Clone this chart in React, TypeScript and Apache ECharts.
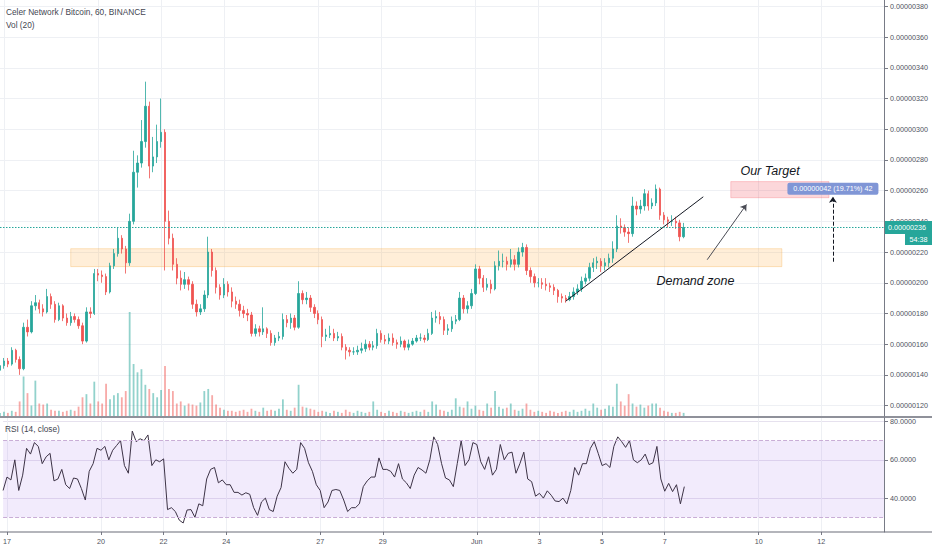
import React, { useEffect, useRef } from "react";
import * as echarts from "echarts";

// ---------- data (prices in satoshi, 3-hour candles from 16 May 21:00) ----------
const firstOpen = 143;
const closes = [
  146, 149, 147, 156, 150, 144, 171, 168, 185, 187,
  183, 181, 191, 186, 176, 185, 177, 174, 178, 176,
  172, 162, 181, 180, 206, 205, 204, 194, 211, 219,
  229, 222, 213, 240, 272, 278, 292, 315, 276, 282,
  292, 298, 240, 229, 212, 203, 199, 202, 199, 186,
  181, 183, 192, 220, 208, 197, 192, 199, 194, 188,
  186, 182, 180, 179, 167, 170, 168, 170, 167, 161,
  164, 165, 176, 174, 177, 171, 193, 189, 190, 184,
  180, 176, 165, 166, 167, 164, 165, 158, 156, 155,
  155, 156, 157, 160, 158, 159, 167, 163, 162, 164,
  161, 160, 162, 158, 160, 162, 164, 164, 163, 167,
  177, 178, 176, 169, 170, 175, 176, 190, 183, 185,
  193, 209, 203, 197, 199, 196, 211, 214, 214, 212,
  215, 212, 220, 223, 208, 204, 200, 200, 199, 198,
  197, 195, 191, 190, 189, 191, 194, 196, 201, 203,
  210, 213, 214, 211, 213, 216, 222, 237, 236, 233,
  232, 250, 248, 250, 258, 250, 252, 261, 244, 241,
  240, 240, 239, 230, 236,
];
const highs = [
  148, 151, 151, 158, 157, 152, 174, 176, 188, 192,
  189, 186, 196, 193, 188, 187, 186, 180, 181, 180,
  178, 174, 184, 184, 209, 209, 208, 206, 213, 222,
  236, 231, 224, 245, 286, 283, 306, 331, 318, 295,
  303, 320, 300, 247, 232, 216, 208, 207, 204, 201,
  189, 186, 195, 230, 222, 210, 199, 203, 201, 197,
  191, 189, 185, 183, 181, 173, 172, 184, 171, 169,
  166, 168, 180, 179, 180, 179, 201, 195, 194, 192,
  186, 182, 178, 170, 172, 170, 168, 167, 160, 158,
  158, 159, 161, 163, 162, 162, 170, 169, 166, 167,
  167, 163, 165, 163, 163, 164, 166, 167, 166, 170,
  181, 182, 181, 178, 173, 178, 179, 194, 192, 188,
  196, 212, 211, 205, 203, 202, 214, 221, 219, 217,
  222, 218, 223, 226, 225, 210, 206, 203, 203, 203,
  200, 199, 196, 193, 192, 194, 197, 199, 204, 206,
  213, 216, 217, 216, 216, 219, 227, 244, 242, 238,
  236, 256, 253, 254, 261, 260, 255, 264, 262, 246,
  243, 244, 243, 241, 239,
];
const lows = [
  141, 144, 145, 146, 148, 140, 143, 165, 167, 182,
  180, 178, 180, 183, 174, 175, 175, 172, 172, 174,
  170, 160, 161, 177, 179, 201, 200, 192, 193, 209,
  217, 219, 206, 211, 238, 262, 275, 288, 268, 272,
  278, 288, 208, 225, 208, 199, 195, 196, 195, 183,
  178, 179, 181, 190, 204, 193, 189, 190, 191, 184,
  183, 178, 177, 175, 165, 165, 165, 166, 164, 159,
  159, 162, 163, 171, 170, 169, 170, 186, 186, 181,
  177, 173, 158, 162, 164, 162, 162, 156, 150, 152,
  153, 153, 154, 155, 156, 156, 157, 161, 160, 160,
  159, 157, 158, 156, 156, 159, 161, 162, 161, 162,
  166, 174, 173, 166, 166, 168, 173, 175, 180, 180,
  183, 192, 199, 194, 195, 193, 195, 208, 210, 208,
  210, 208, 210, 217, 205, 200, 197, 197, 196, 195,
  194, 192, 187, 187, 187, 188, 189, 192, 194, 199,
  201, 207, 209, 207, 208, 210, 213, 220, 232, 230,
  226, 230, 244, 245, 247, 247, 248, 250, 241, 238,
  236, 237, 235, 227, 229,
];
const volumes = [
  3, 4, 3, 5, 4, 14, 38, 22, 10, 34,
  12, 11, 12, 6, 5, 5, 4, 5, 6, 5,
  9, 18, 21, 12, 33, 14, 12, 31, 16, 20,
  22, 18, 24, 100, 50, 42, 45, 30, 26, 22,
  18, 25, 48, 26, 24, 12, 14, 10, 12, 11,
  10, 13, 24, 26, 20, 11, 8, 6, 5, 5,
  4, 5, 6, 4, 7, 5, 4, 8, 5, 6,
  5, 7, 16, 6, 5, 8, 30, 9, 8, 7,
  6, 4, 5, 4, 3, 5, 4, 3, 6, 4,
  3, 5, 4, 3, 4, 14, 6, 4, 3, 5,
  4, 3, 5, 4, 3, 4, 5, 4, 6, 4,
  14, 11, 6, 5, 4, 6, 17, 9, 8, 14,
  7, 10, 6, 5, 12, 8, 24, 9, 7, 8,
  12, 6, 5, 7, 12, 6, 4, 5, 4, 3,
  5, 4, 3, 4, 5, 4, 6, 4, 5, 7,
  5, 12, 8, 6, 7, 10, 9, 31, 14, 10,
  21, 12, 9, 11, 8, 10, 12, 12, 8, 5,
  4, 3, 3, 4, 3,
];
const rsi = [
  44, 51, 49.5, 60, 44, 52, 66, 63, 69, 67,
  58, 61.6, 63.4, 49, 50, 55, 47, 45, 50.5, 50,
  45, 39, 54, 58, 66, 65, 67, 60, 65, 67.5,
  70, 57, 53, 75, 69.5, 71, 70, 73, 57, 60,
  59, 60.5, 34, 35, 33, 28.5, 27, 33.8, 34, 30,
  37, 36, 50, 55, 56, 48, 49.5, 47, 47, 43,
  43, 41.6, 42.8, 42, 35, 31, 38, 40, 34, 33,
  41, 45.5, 59, 55.6, 53, 55, 69, 66, 58.5, 54,
  47, 44, 35, 38, 44, 44.5, 44, 39, 33, 35,
  35, 37, 46, 49, 51, 51, 61, 55, 55, 54,
  51, 58, 50, 48, 45, 52, 56, 54.7, 53, 60,
  72, 68, 58, 50.5, 49.5, 46, 58, 70, 57, 60,
  69, 68, 59, 55, 61.6, 52, 55, 68, 60, 63.4,
  64, 53, 58, 64, 50, 48.6, 41, 42.5, 40, 43.8,
  41.5, 38.5, 38.2, 40, 37, 44, 56, 52, 58, 58,
  66, 69.5, 63.4, 57, 58, 56, 67, 72, 69.5, 66.5,
  70, 60, 58.5, 60, 63, 57.5, 58.5, 67, 50, 43.6,
  47.7, 43.4, 47, 37, 46,
];

const slotCount = 226;
const priceTicks = [120, 140, 160, 180, 200, 220, 240, 260, 280, 300, 320, 340, 360, 380];
const rsiTicks = [40, 60, 80];
const dateTickIndex = [1, 25, 41, 57, 81, 97, 121, 137, 153, 169, 193, 209];
const dateTickText = ["17", "20", "22", "24", "27", "29", "Jun", "3", "5", "7", "10", "12"];
const lastPrice = 236;
const countdown = "54:38";
const rangeText = "0.00000042 (19.71%) 42";
// drawings: [fromIndex, toIndex, lowPrice, highPrice]
const demandZone = [18, 199, 210.5, 222.2];
const targetZone = [186, 211, 255.4, 265.9];
// lines: [index1, price1, index2, price2]
const trendLine = [144, 188, 179, 256];
const arrowLine = [180, 215, 190, 251];
const measureLine = [212, 213.7, 212, 256];
// text anchors: [index, price]
const targetTextAt = [196, 273];
const demandTextAt = [177, 201.4];
const rangeLabelAt = [212, 261.3];

const FONT = "'Liberation Sans', Arial, sans-serif";
const UP = "#26a69a";
const DOWN = "#ef5350";
const GRID = "#eef0f4";
const AXIS = "#787b86";
const LABEL = "#50535e";

export default function App() {
  const ref = useRef<HTMLDivElement>(null);

  useEffect(() => {
    const chart = echarts.init(ref.current!, null, { renderer: "svg" });
    const startUTC = Date.UTC(2020, 4, 16, 21);
    const cats = Array.from({ length: slotCount }, (_, i) =>
      new Date(startUTC + i * 3 * 3600e3).toISOString().slice(0, 16)
    );
    const opens = closes.map((_, i) => (i === 0 ? firstOpen : closes[i - 1]));
    const candles = closes.map((c, i) => [opens[i], c, lows[i], highs[i]]);
    const vols = volumes.map((v, i) => ({
      value: v,
      itemStyle: {
        color: closes[i] >= opens[i] ? "rgba(38,166,154,0.5)" : "rgba(239,83,80,0.5)",
      },
    }));
    const isTick = (idx: number) => dateTickIndex.indexOf(idx) >= 0;
    const tickLabel = (_v: string, idx: number) => {
      const k = dateTickIndex.indexOf(idx);
      return k >= 0 ? dateTickText[k] : "";
    };

    const xBase = {
      type: "category",
      data: cats,
      boundaryGap: false,
      axisLine: { show: false },
      splitLine: { show: true, interval: (i: number) => isTick(i), lineStyle: { color: GRID, width: 1 } },
    };

    const option: any = {
      animation: false,
      backgroundColor: "#ffffff",
      textStyle: { fontFamily: FONT },
      grid: [
        { left: 0, top: 0, width: 884, height: 416 },
        { left: 0, top: 418, width: 884, height: 114 },
      ],
      xAxis: [
        { ...xBase, gridIndex: 0, axisTick: { show: false }, axisLabel: { show: false } },
        {
          ...xBase,
          gridIndex: 1,
          axisTick: { show: true, interval: (i: number) => isTick(i), length: 3, lineStyle: { color: AXIS } },
          axisLabel: {
            show: true,
            interval: (i: number) => isTick(i),
            formatter: tickLabel,
            fontSize: 7.2,
            color: LABEL,
            margin: 6,
          },
        },
      ],
      yAxis: [
        {
          gridIndex: 0,
          type: "value",
          position: "right",
          min: 113.2,
          max: 384.2,
          axisLine: { show: true, lineStyle: { color: AXIS, width: 1 } },
          axisTick: { show: true, length: 4, customValues: priceTicks, lineStyle: { color: AXIS } },
          axisLabel: {
            show: true,
            customValues: priceTicks,
            formatter: (v: number) => (v / 1e8).toFixed(8),
            fontSize: 7.2,
            color: LABEL,
            margin: 6,
          },
          splitLine: { show: true, lineStyle: { color: GRID, width: 1 } },
        },
        { gridIndex: 0, type: "value", min: 0, max: 400, show: false, splitLine: { show: false } },
        {
          gridIndex: 1,
          type: "value",
          position: "right",
          min: 22.3,
          max: 81.85,
          axisLine: { show: true, lineStyle: { color: AXIS, width: 1 } },
          axisTick: { show: true, length: 4, customValues: rsiTicks, lineStyle: { color: AXIS } },
          axisLabel: {
            show: true,
            customValues: rsiTicks,
            formatter: (v: number) => v.toFixed(4),
            fontSize: 7.2,
            color: LABEL,
            margin: 6,
          },
          splitLine: { show: true, lineStyle: { color: "#e6e1ee", width: 1 } },
        },
      ],
      series: [
        {
          type: "bar",
          xAxisIndex: 0,
          yAxisIndex: 1,
          data: vols,
          barWidth: 1.8,
          z: 1,
        },
        {
          type: "candlestick",
          xAxisIndex: 0,
          yAxisIndex: 0,
          data: candles,
          barWidth: 1.9,
          z: 3,
          itemStyle: {
            color: UP,
            color0: DOWN,
            borderColor: UP,
            borderColor0: DOWN,
            borderWidth: 0.8,
          },
          markArea: {
            silent: true,
            data: [
              [
                {
                  coord: [demandZone[0], demandZone[3]],
                  itemStyle: { color: "rgba(255,170,60,0.2)", borderColor: "rgba(245,170,60,0.3)", borderWidth: 1 },
                },
                { coord: [demandZone[1], demandZone[2]] },
              ],
              [
                {
                  coord: [targetZone[0], targetZone[3]],
                  itemStyle: { color: "rgba(242,54,69,0.2)", borderColor: "rgba(242,54,69,0.22)", borderWidth: 1 },
                },
                { coord: [targetZone[1], targetZone[2]] },
              ],
            ],
          },
          markLine: {
            silent: true,
            symbol: ["none", "none"],
            label: { show: false },
            data: [
              [
                { coord: [trendLine[0], trendLine[1]], lineStyle: { color: "#131722", type: "solid", width: 1 } },
                { coord: [trendLine[2], trendLine[3]] },
              ],
              [
                { coord: [arrowLine[0], arrowLine[1]], lineStyle: { color: "#4a4c55", type: "solid", width: 1 } },
                { coord: [arrowLine[2], arrowLine[3]], symbol: "arrow", symbolSize: 6 },
              ],
              [
                { coord: [measureLine[0], measureLine[1]], lineStyle: { color: "#131722", type: "dashed", width: 1 } },
                { coord: [measureLine[2], measureLine[3]], symbol: "arrow", symbolSize: 6 },
              ],
            ],
          },
        },
        {
          type: "line",
          xAxisIndex: 1,
          yAxisIndex: 2,
          data: rsi,
          symbol: "none",
          lineStyle: { color: "#3d3346", width: 1 },
          z: 3,
          markArea: {
            silent: true,
            itemStyle: { color: "rgba(149,91,232,0.12)" },
            data: [[{ yAxis: 30 }, { yAxis: 70 }]],
          },
          markLine: {
            silent: true,
            symbol: ["none", "none"],
            label: { show: false },
            lineStyle: { color: "#c9aed6", type: "dashed", width: 1 },
            data: [{ yAxis: 70 }, { yAxis: 30 }],
          },
        },
      ],
    };

    chart.setOption(option);

    const toPx = (p: number[]) =>
      chart.convertToPixel({ xAxisIndex: 0, yAxisIndex: 0 }, p) as unknown as number[];
    const yLast = chart.convertToPixel({ yAxisIndex: 0 }, lastPrice) as unknown as number;
    const pTarget = toPx(targetTextAt);
    const pDemand = toPx(demandTextAt);
    const pRange = toPx(rangeLabelAt);

    const elements: any[] = [
      {
        type: "text",
        x: 6,
        y: 12,
        style: { text: "Celer Network / Bitcoin, 60, BINANCE", fill: "#434651", fontSize: 8.3, fontFamily: FONT, verticalAlign: "middle" },
      },
      {
        type: "text",
        x: 6,
        y: 25,
        style: { text: "Vol (20)", fill: "#434651", fontSize: 8.3, fontFamily: FONT, verticalAlign: "middle" },
      },
      {
        type: "text",
        x: 5,
        y: 429,
        style: { text: "RSI (14, close)", fill: "#434651", fontSize: 8.3, fontFamily: FONT, verticalAlign: "middle" },
      },
      {
        type: "line",
        shape: { x1: 0, y1: yLast, x2: 884, y2: yLast },
        style: { stroke: UP, lineWidth: 1, lineDash: [1.5, 1.5] },
        z: 5,
      },
      {
        type: "line",
        shape: { x1: 0, y1: 417, x2: 932, y2: 417 },
        style: { stroke: "#6a6d78", lineWidth: 1.5 },
        z: 10,
      },
      {
        type: "line",
        shape: { x1: 0, y1: 532, x2: 932, y2: 532 },
        style: { stroke: "#6a6d78", lineWidth: 1.2 },
        z: 10,
      },
      {
        type: "text",
        x: pTarget[0],
        y: pTarget[1],
        style: { text: "Our Target", fill: "#131722", fontSize: 12.5, fontStyle: "italic", fontFamily: FONT, align: "center", verticalAlign: "middle" },
        z: 10,
      },
      {
        type: "text",
        x: pDemand[0],
        y: pDemand[1],
        style: { text: "Demand zone", fill: "#131722", fontSize: 12.5, fontStyle: "italic", fontFamily: FONT, align: "center", verticalAlign: "middle" },
        z: 10,
      },
      {
        type: "rect",
        shape: { x: pRange[0] - 45.5, y: pRange[1] - 6, width: 91, height: 12, r: 2 },
        style: { fill: "#8096d6" },
        z: 10,
      },
      {
        type: "text",
        x: pRange[0],
        y: pRange[1],
        style: { text: rangeText, fill: "#ffffff", fontSize: 7.2, fontFamily: FONT, align: "center", verticalAlign: "middle" },
        z: 11,
      },
      {
        type: "rect",
        shape: { x: 885, y: yLast - 6.5, width: 47, height: 13 },
        style: { fill: UP },
        z: 20,
      },
      {
        type: "text",
        x: 888,
        y: yLast,
        style: { text: (lastPrice / 1e8).toFixed(8), fill: "#ffffff", fontSize: 7.2, fontFamily: FONT, verticalAlign: "middle" },
        z: 21,
      },
      {
        type: "rect",
        shape: { x: 905, y: yLast + 6.5, width: 27, height: 11 },
        style: { fill: UP },
        z: 20,
      },
      {
        type: "text",
        x: 918.5,
        y: yLast + 12,
        style: { text: countdown, fill: "#ffffff", fontSize: 7.2, fontFamily: FONT, align: "center", verticalAlign: "middle" },
        z: 21,
      },
    ];
    chart.setOption({ graphic: { elements } });

    return () => chart.dispose();
  }, []);

  return <div ref={ref} style={{ position: "fixed", left: 0, top: 0, width: 932, height: 550 }} />;
}
